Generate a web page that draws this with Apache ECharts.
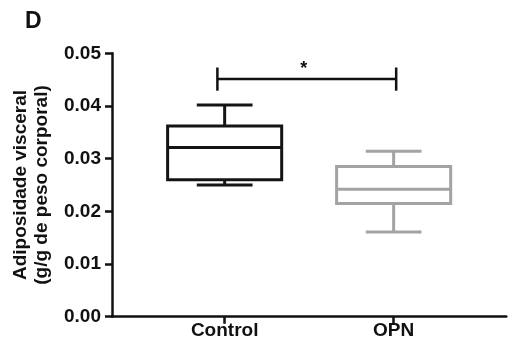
<!DOCTYPE html>
<html>
<head>
<meta charset="utf-8">
<script src="https://cdn.jsdelivr.net/npm/echarts@6/dist/echarts.min.js"></script>
<style>html,body{margin:0;padding:0;background:#fff}#c{width:509px;height:351px}</style>
</head>
<body>
<div id="c"></div>
<script>
// Data
const categories = ['Control', 'OPN'];
const categoryPos = [1, 2];
// [low, q1, median, q3, high]
const controlBox = [0.0250, 0.0260, 0.0321, 0.0362, 0.0402];
const opnBox = [0.0161, 0.0215, 0.0242, 0.0285, 0.0314];
const boxColors = ['#141414', '#a3a3a3'];
const yTicks = [0, 0.01, 0.02, 0.03, 0.04, 0.05];
const bracket = { x1: 0.957, x2: 2.015, y: 0.0451, tick: 0.0022, label: '*' };

const FONT = '"Liberation Sans", Arial, sans-serif';
const chart = echarts.init(document.getElementById('c'));

const boxData = [
  [categoryPos[0], ...controlBox, 0],
  [categoryPos[1], ...opnBox, 1]
];

chart.setOption({
  backgroundColor: '#fff',
  animation: false,
  title: {
    text: 'D', left: 20, top: 5,
    textStyle: { fontFamily: FONT, fontSize: 23, fontWeight: 'bold', color: '#111' }
  },
  grid: { left: 112, right: 2.7, top: 53.3, bottom: 34.3 },
  xAxis: {
    type: 'value', min: 1/3, max: 8/3,
    splitLine: { show: false },
    axisLine: { show: true, lineStyle: { color: '#111', width: 2.5 } },
    axisTick: { show: true, customValues: categoryPos, length: 7, lineStyle: { color: '#111', width: 2.5 } },
    axisLabel: {
      customValues: categoryPos,
      formatter: v => categories[categoryPos.indexOf(Math.round(v))] || '',
      fontFamily: FONT, fontSize: 19, fontWeight: 'bold', color: '#111', margin: 5
    }
  },
  yAxis: {
    type: 'value', min: 0, max: 0.05, interval: 0.01,
    splitLine: { show: false },
    axisLine: { show: true, lineStyle: { color: '#111', width: 2.5 } },
    axisTick: { show: true, length: 7, lineStyle: { color: '#111', width: 2.5 } },
    axisLabel: {
      formatter: v => v.toFixed(2),
      fontFamily: FONT, fontSize: 19, fontWeight: 'bold', color: '#111', margin: 11
    },
    name: 'Adiposidade visceral\n(g/g de peso corporal)',
    nameLocation: 'middle', nameRotate: 90, nameGap: 60,
    nameTextStyle: { fontFamily: FONT, fontSize: 19, fontWeight: 'bold', color: '#111', lineHeight: 21 }
  },
  series: [
    {
      type: 'custom',
      data: boxData,
      renderItem: function (params, api) {
        const x = api.value(0);
        const low = api.coord([x, api.value(1)]);
        const q1 = api.coord([x, api.value(2)]);
        const med = api.coord([x, api.value(3)]);
        const q3 = api.coord([x, api.value(4)]);
        const high = api.coord([x, api.value(5)]);
        const color = boxColors[api.value(6)];
        const boxW = api.size([0.675, 0])[0];
        const capW = api.size([0.33, 0])[0];
        const cx = low[0];
        const st = { stroke: color, lineWidth: 3, fill: 'none' };
        return {
          type: 'group',
          children: [
            { type: 'line', shape: { x1: cx, y1: high[1], x2: cx, y2: q3[1] }, style: st },
            { type: 'line', shape: { x1: cx, y1: q1[1], x2: cx, y2: low[1] }, style: st },
            { type: 'line', shape: { x1: cx - capW/2, y1: high[1], x2: cx + capW/2, y2: high[1] }, style: st },
            { type: 'line', shape: { x1: cx - capW/2, y1: low[1], x2: cx + capW/2, y2: low[1] }, style: st },
            { type: 'rect', shape: { x: cx - boxW/2, y: q3[1], width: boxW, height: q1[1] - q3[1] }, style: { stroke: color, lineWidth: 3, fill: '#fff' } },
            { type: 'line', shape: { x1: cx - boxW/2, y1: med[1], x2: cx + boxW/2, y2: med[1] }, style: st }
          ]
        };
      }
    },
    {
      type: 'custom',
      data: [[bracket.x1, bracket.x2, bracket.y, bracket.tick]],
      renderItem: function (params, api) {
        const a = api.coord([api.value(0), api.value(2)]);
        const b = api.coord([api.value(1), api.value(2)]);
        const t = api.size([0, api.value(3)])[1];
        const st = { stroke: '#111', lineWidth: 2.5, fill: 'none' };
        return {
          type: 'group',
          children: [
            { type: 'line', shape: { x1: a[0], y1: a[1], x2: b[0], y2: b[1] }, style: st },
            { type: 'line', shape: { x1: a[0], y1: a[1] - t, x2: a[0], y2: a[1] + t }, style: st },
            { type: 'line', shape: { x1: b[0], y1: b[1] - t, x2: b[0], y2: b[1] + t }, style: st },
            { type: 'text', style: { text: bracket.label, x: (a[0] + b[0]) / 2 - 3, y: a[1] - 1, align: 'center', verticalAlign: 'bottom', font: 'bold 18px ' + FONT, fill: '#111' } }
          ]
        };
      }
    }
  ]
});
</script>
</body>
</html>
